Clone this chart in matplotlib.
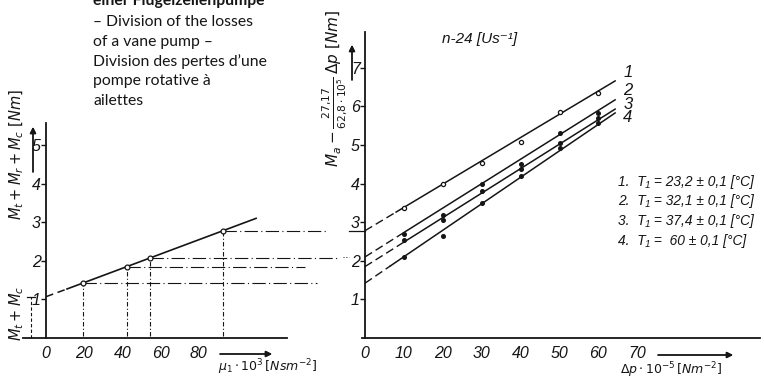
import matplotlib
matplotlib.use("Agg")
import matplotlib.pyplot as plt
import numpy as np
from matplotlib import font_manager

# --- data ---
# left chart: loss torque against viscosity
mu = [19.5, 42.5, 54.5, 92.5]            # mu_1 * 10^3 [Nsm^-2]
M_loss = [1.42, 1.85, 2.07, 2.78]        # Mt + Mr + Mc [Nm]
fit_mu = [0, 11, 110]
fit_M = [1.07, 1.27, 3.10]
proj_end = [141.9, 135.6, 152.4, 147.6]  # where the dash-dot projections stop
Mc_start = 1.07

# right chart: corrected torque against pressure difference
dp = [10, 20, 30, 40, 50, 60]
pts = {
    1: [3.38, 3.99, 4.54, 5.09, 5.85, 6.34],
    2: [2.70, 3.19, 3.98, 4.52, 5.30, 5.84],
    3: [2.55, 3.06, 3.82, 4.38, 5.04, 5.69],
    4: [2.11, 2.64, 3.49, 4.20, 4.93, 5.58],
}
intercept = {1: 2.78, 2: 2.10, 3: 1.85, 4: 1.42}
end_val = {1: 6.66, 2: 6.17, 3: 5.93, 4: 5.83}
end_dp = 64.3
dash_to = {1: 8, 2: 10, 3: 10, 4: 6.5}
label_y = {1: 6.88, 2: 6.42, 3: 6.06, 4: 5.71}
legend = ["1.  T₁ = 23,2 ± 0,1 [°C]",
          "2.  T₁ = 32,1 ± 0,1 [°C]",
          "3.  T₁ = 37,4 ± 0,1 [°C]",
          "4.  T₁ =  60 ± 0,1 [°C]"]

caption = ["– Division of the losses",
           "of a vane pump –",
           "Division des pertes d’une",
           "pompe rotative à",
           "ailettes"]

names = {f.name for f in font_manager.fontManager.ttflist}
narrow = "Liberation Sans" if "Liberation Sans" in names else "DejaVu Sans"
capfont = "Lato" if "Lato" in names else "DejaVu Sans"
plt.rcParams["mathtext.fontset"] = "dejavusans"

W, H = 764, 383
def fx(px):
    return px / W
def fy(py):
    return 1 - py / H

ink = "#151515"
fig = plt.figure(figsize=(W / 100, H / 100), dpi=100)
fig.patch.set_facecolor("white")

ypx = 38.6      # pixels per Nm, both charts
y0 = 338        # pixel row of the zero line

ax1 = fig.add_axes([fx(20), 0, fx(320), 1])
ax1.set_xlim((20 - 46) / 1.91, (340 - 46) / 1.91)
ax2 = fig.add_axes([fx(340), 0, fx(424), 1])
ax2.set_xlim((340 - 365) / 3.89, (764 - 365) / 3.89)
for ax in (ax1, ax2):
    ax.set_ylim((y0 - H) / ypx, y0 / ypx)
    ax.patch.set_alpha(0)
    for s in ("top", "right"):
        ax.spines[s].set_visible(False)
    ax.spines["left"].set_position(("data", 0))
    ax.spines["bottom"].set_position(("data", 0))
    ax.spines["left"].set_linewidth(1.3)
    ax.spines["bottom"].set_linewidth(1.3)
    ax.spines["left"].set_color(ink)
    ax.spines["bottom"].set_color(ink)
    ax.tick_params(axis="y", direction="out", length=3.5, width=1, pad=0.3, colors=ink)
    ax.tick_params(axis="x", length=0, pad=5.5, colors=ink)

ax1.spines["left"].set_bounds(0, 5.57)
ax1.spines["bottom"].set_bounds(-12, 126)
ax1.set_yticks([1, 2, 3, 4, 5])
ax1.set_xticks([0, 20, 40, 60, 80])
ax2.spines["left"].set_bounds(0, 7.93)
ax2.spines["bottom"].set_bounds(-0.8, 101.5)
ax2.set_yticks([1, 2, 3, 4, 5, 6, 7])
ax2.set_xticks([0, 10, 20, 30, 40, 50, 60, 70])
for ax in (ax1, ax2):
    for lab in ax.get_xticklabels() + ax.get_yticklabels():
        lab.set_fontstyle("italic")
        lab.set_family(narrow)
        lab.set_fontsize(11.5)

# left chart
ax1.plot(fit_mu[:2], fit_M[:2], color=ink, lw=1.1, ls=(0, (5, 3)))
ax1.plot(fit_mu[1:], fit_M[1:], color=ink, lw=1.2)
for m, v, e in zip(mu, M_loss, proj_end):
    ax1.plot([m, m], [0.05, v], color=ink, lw=0.8, ls=(0, (4, 2, 1, 2)))
    ax1.plot([m, e], [v, v], color=ink, lw=0.8, ls=(0, (12, 3, 1, 3)))
ax1.plot(mu, M_loss, "o", ms=3.5, mfc="white", mec=ink, mew=0.9)
ax1.plot([-7.9, -7.9], [0, Mc_start], color=ink, lw=0.8, ls=(0, (3, 2)))
ax1.plot([-10, -5.8], [Mc_start, Mc_start], color=ink, lw=0.9)

# right chart
for i in (1, 2, 3, 4):
    xs = [0, dash_to[i], end_dp]
    ys = np.interp(xs, [0, end_dp], [intercept[i], end_val[i]])
    ax2.plot(xs[:2], ys[:2], color=ink, lw=1.0, ls=(0, (6, 3)))
    ax2.plot(xs[1:], ys[1:], color=ink, lw=1.1)
    if i == 1:
        ax2.plot(dp, pts[i], "o", ms=3, mfc="white", mec=ink, mew=0.9)
    else:
        ax2.plot(dp, pts[i], "o", ms=2.6, color=ink)
    ax2.text(67.6, label_y[i], str(i), fontsize=12, fontstyle="italic",
             family=narrow, ha="center", va="center", color=ink)
ax2.plot([-4, 0], [intercept[1], intercept[1]], color=ink, lw=0.9)
ax2.plot([-5.6, -4.2], [intercept[2], intercept[2]], color=ink, lw=0.7, ls=(0, (1, 2)))

ax2.text(29.5, 7.75, "n-24 [Us⁻¹]", fontsize=11, fontstyle="italic",
         family=[narrow, "DejaVu Sans"], ha="center", va="center", color=ink)

for k, line in enumerate(legend):
    fig.text(fx(618), fy(182 + 19.5 * k), line, fontsize=9.9, fontstyle="italic",
             family=[narrow, "DejaVu Sans"], ha="left", va="center", color=ink)

# captions (top line is cut off by the page edge)
fig.text(fx(93), fy(5), "einer Flügelzellenpumpe", fontsize=11.3, weight="bold",
         family=capfont, ha="left", va="baseline", color=ink)
for k, line in enumerate(caption):
    fig.text(fx(93), fy(26 + 19.8 * k), line, fontsize=11.3, family=capfont,
             ha="left", va="baseline", color=ink)

# axis titles and arrows
fig.text(fx(17), fy(154), r"$M_t + M_r + M_c\ [Nm]$", rotation=90, fontsize=10.5,
         ha="center", va="center", color=ink)
fig.text(fx(17), fy(313), r"$M_t + M_c$", rotation=90, fontsize=10.5,
         ha="center", va="center", color=ink)
fig.text(fx(335), fy(88), r"$M_a - \frac{27{,}17}{62{,}8\cdot10^5}\,\Delta p\ [Nm]$",
         rotation=90, fontsize=11, ha="center", va="center", color=ink)
fig.text(fx(268), fy(367), r"$\mu_1\cdot10^3\,[Nsm^{-2}]$", fontsize=9,
         ha="center", va="center", color=ink)
fig.text(fx(671), fy(370), r"$\Delta p\cdot10^{-5}\,[Nm^{-2}]$", fontsize=9,
         ha="center", va="center", color=ink)

arrow = dict(arrowstyle="-|>", lw=1.0, color=ink, mutation_scale=9, shrinkA=0, shrinkB=0)
for (xa, ya), (xb, yb) in [((220, 354), (272, 354)), ((658, 355), (733, 355)),
                           ((33, 172), (33, 127)), ((352, 80), (352, 45))]:
    fig.add_artist(plt.annotate("", xy=(fx(xb), fy(yb)), xytext=(fx(xa), fy(ya)),
                                xycoords="figure fraction", textcoords="figure fraction",
                                arrowprops=arrow))

fig.savefig("out.png", dpi=100, facecolor="white")
